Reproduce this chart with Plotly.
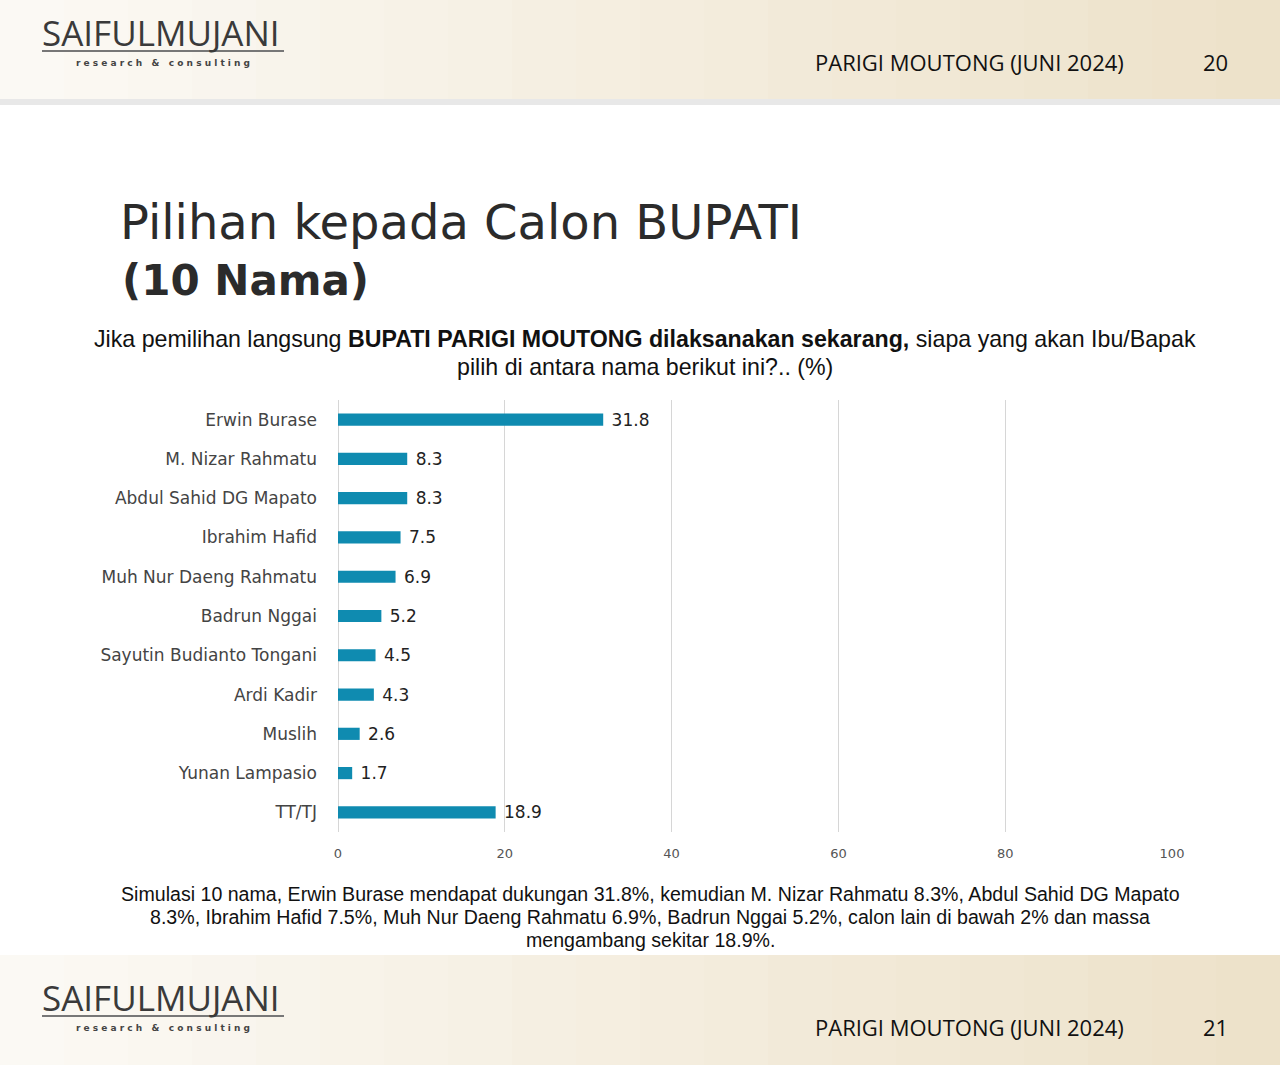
import plotly.graph_objects as go

categories = ["Erwin Burase", "M. Nizar Rahmatu", "Abdul Sahid DG Mapato", "Ibrahim Hafid",
              "Muh Nur Daeng Rahmatu", "Badrun Nggai", "Sayutin Budianto Tongani", "Ardi Kadir",
              "Muslih", "Yunan Lampasio", "TT/TJ"]
values = [31.8, 8.3, 8.3, 7.5, 6.9, 5.2, 4.5, 4.3, 2.6, 1.7, 18.9]
tick_vals = [0, 20, 40, 60, 80, 100]

W, H = 1280, 1065
ML, MR, MT, MB = 338, 108, 400, 233
PW, PH = W - ML - MR, H - MT - MB

def px(p):  # pixel x -> paper x
    return (p - ML) / PW

def py(p):  # pixel y -> paper y
    return (H - MB - p) / PH

fig = go.Figure()
fig.add_trace(go.Bar(
    x=values, y=categories, orientation="h",
    marker=dict(color="#0f8bb0", line=dict(width=0)),
    text=[f"{v:.1f}" for v in values], textposition="outside",
    texttemplate=" %{text}", constraintext="none",
    textfont=dict(family="DejaVu Sans", size=17, color="#222222"),
    cliponaxis=False, width=0.31,
))

shapes = []
strips = 20
for i in range(strips):
    x0 = i * W / strips
    x1 = (i + 1) * W / strips
    a = 0.2 + 0.8 * (i / (strips - 1))
    for (t, b) in ((0, 100), (955, 1065)):
        shapes.append(dict(type="rect", xref="paper", yref="paper", x0=px(x0), x1=px(x1),
                           y0=py(b), y1=py(t), fillcolor=f"rgba(237,226,202,{a:.2f})",
                           line=dict(width=0), layer="below"))
shapes.append(dict(type="rect", xref="paper", yref="paper", x0=px(0), x1=px(W), y0=py(105), y1=py(99),
                   fillcolor="#e8e8e8", line=dict(width=0), layer="below"))
for top in (51, 1016):
    shapes.append(dict(type="line", xref="paper", yref="paper", x0=px(42), x1=px(284),
                       y0=py(top), y1=py(top), line=dict(color="#777777", width=2)))

annotations = []

def note(text, x, y, size, family="Liberation Sans, Arial", color="#111111", xanchor="center"):
    annotations.append(dict(text=text, x=px(x), y=py(y), xref="paper", yref="paper",
                            xanchor=xanchor, yanchor="middle", showarrow=False,
                            font=dict(family=family, size=size, color=color)))

for ytxt, ysub, num, ynum in ((32, 62.5, "20", 62), (997, 1027.5, "21", 1027)):
    note("SAIFULMUJANI", 40, ytxt, 35, family="Liberation Sans Narrow, Open Sans", color="#3a3a3a",
         xanchor="left")
    note("<b>r e s e a r c h   &amp;   c o n s u l t i n g</b>", 163, ysub, 9,
         family="DejaVu Sans", color="#444444")
    note("PARIGI MOUTONG (JUNI 2024)", 813, ynum, 22, family="Liberation Sans Narrow, Open Sans",
         xanchor="left")
    note(num, 1230, ynum, 22, family="Liberation Sans Narrow, Open Sans", xanchor="right")

note("Pilihan kepada Calon BUPATI", 118, 222, 48, family="DejaVu Sans", color="#2b2b2b", xanchor="left")
note("<b>(10 Nama)</b>", 120, 280, 42, family="DejaVu Sans", color="#2b2b2b", xanchor="left")

note("Jika pemilihan langsung <b>BUPATI PARIGI MOUTONG dilaksanakan sekarang,</b> siapa yang akan Ibu/Bapak",
     645, 339, 23.2)
note("pilih di antara nama berikut ini?.. (%)", 645, 367, 23.2)

note("Simulasi 10 nama, Erwin Burase mendapat dukungan 31.8%, kemudian M. Nizar Rahmatu 8.3%, Abdul Sahid DG Mapato",
     650, 894, 19.6)
note("8.3%, Ibrahim Hafid 7.5%, Muh Nur Daeng Rahmatu 6.9%, Badrun Nggai 5.2%, calon lain di bawah 2% dan massa",
     650, 917, 19.6)
note("mengambang sekitar 18.9%.", 650, 940, 19.6)

fig.update_layout(
    width=W, height=H, autosize=False,
    margin=dict(l=ML, r=MR, t=MT, b=MB),
    paper_bgcolor="white", plot_bgcolor="rgba(0,0,0,0)",
    showlegend=False, bargap=0.69,
    shapes=shapes, annotations=annotations,
    xaxis=dict(range=[0, 100], tickvals=tick_vals, showgrid=True, gridcolor="#d6d6d6", gridwidth=1,
               zeroline=True, zerolinecolor="#d6d6d6", zerolinewidth=1, showline=False, ticks="",
               ticklabelstandoff=12,
               tickfont=dict(family="DejaVu Sans", size=13, color="#555555"), fixedrange=True),
    yaxis=dict(categoryorder="array", categoryarray=categories[::-1], showgrid=False, zeroline=False,
               ticks="", ticklabelstandoff=20,
               tickfont=dict(family="DejaVu Sans", size=17, color="#444444"), fixedrange=True),
)

fig.write_html("out.html", config={"displayModeBar": False},
               post_script="document.body.style.margin='0';document.body.style.overflow='hidden';")
